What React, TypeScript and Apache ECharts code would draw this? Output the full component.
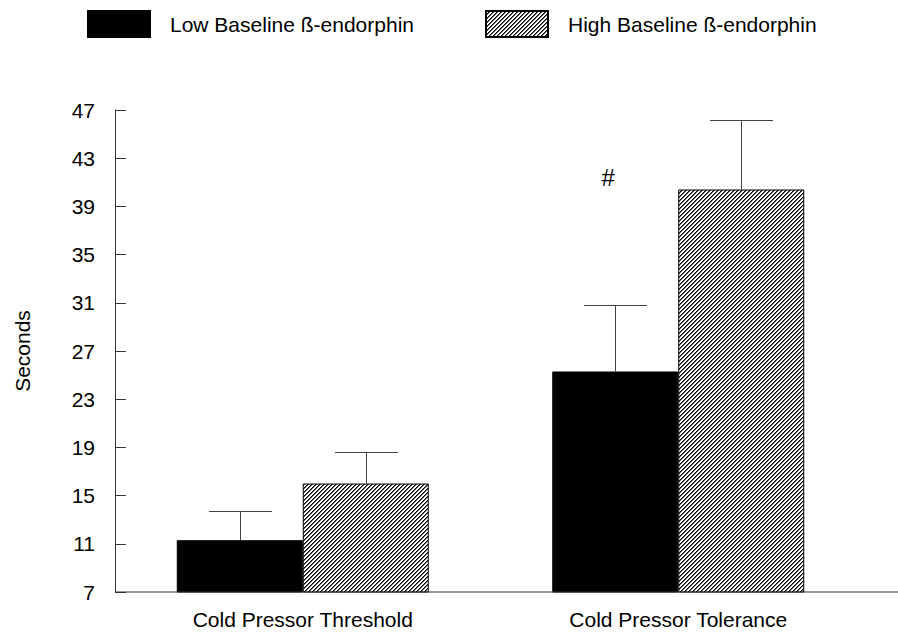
import React, { useEffect, useRef } from "react";
import * as echarts from "echarts";

// Pain measures by baseline ß-endorphin group (seconds, mean and SE)
const categories = ["Cold Pressor Threshold", "Cold Pressor Tolerance"];
const seriesNames = ["Low Baseline ß-endorphin", "High Baseline ß-endorphin"];
const lowMeans = [11.3, 25.3];
const lowErrors = [2.4, 5.5];
const highMeans = [16.0, 40.4];
const highErrors = [2.6, 5.8];
const yMin = 7;
const yMax = 47;
const yStep = 4;
const markText = "#";
const markCategory = 1;
const markValue = 41.4;

const FONT = "'Liberation Sans', Arial, Helvetica, sans-serif";
const BAR_WIDTH = 126;
const GRID_LEFT = 115;
const GRID_TOP = 110;
const GRID_BOTTOM = 40;
const PAGE_W = 898;
const PAGE_H = 632;

// Diagonal "/" hatch tile used for the high-group bars
function makeHatch(): HTMLCanvasElement {
  const size = 4;
  const c = document.createElement("canvas");
  c.width = size;
  c.height = size;
  const ctx = c.getContext("2d")!;
  const img = ctx.createImageData(size, size);
  for (let y = 0; y < size; y++) {
    for (let x = 0; x < size; x++) {
      const s = (x + y) % size;
      let v = 255;
      if (s === size - 1) v = 0;
      else if (s === 0) v = 100;
      const i = (y * size + x) * 4;
      img.data[i] = v;
      img.data[i + 1] = v;
      img.data[i + 2] = v;
      img.data[i + 3] = 255;
    }
  }
  ctx.putImageData(img, 0, 0);
  return c;
}

export default function App() {
  const ref = useRef<HTMLDivElement>(null);

  useEffect(() => {
    if (!ref.current) return;
    const chart = echarts.init(ref.current, undefined, { renderer: "svg" });
    const hatch = makeHatch();

    // [category index, mean, mean + error, side (-1 left bar, +1 right bar)]
    const errorData: number[][] = [];
    lowMeans.forEach((m, i) => errorData.push([i, m, m + lowErrors[i], -1]));
    highMeans.forEach((m, i) => errorData.push([i, m, m + highErrors[i], 1]));

    const legendBase = {
      top: 10,
      padding: 0,
      icon: "rect",
      itemWidth: 62,
      itemHeight: 26,
      selectedMode: false,
      textStyle: {
        fontSize: 21,
        fontFamily: FONT,
        color: "#000",
        padding: [12, 0, 0, 15],
      },
    };
    const baseY = PAGE_H - GRID_BOTTOM;

    chart.setOption({
      animation: false,
      textStyle: { fontFamily: FONT, color: "#000" },
      legend: [
        { ...legendBase, data: [seriesNames[0]], left: 87 },
        { ...legendBase, data: [seriesNames[1]], left: 485 },
      ],
      grid: { left: GRID_LEFT, top: GRID_TOP, right: 32, bottom: GRID_BOTTOM, containLabel: false },
      xAxis: {
        type: "category",
        data: categories,
        axisLine: { show: false },
        axisTick: { show: false },
        axisLabel: { fontSize: 21, color: "#000", margin: 17, fontFamily: FONT },
        splitLine: { show: false },
      },
      yAxis: {
        type: "value",
        min: yMin,
        max: yMax,
        interval: yStep,
        name: "Seconds",
        nameLocation: "middle",
        nameGap: 82,
        nameTextStyle: { fontSize: 21, color: "#000", fontFamily: FONT },
        axisLine: { show: true, lineStyle: { color: "#333", width: 1 } },
        axisTick: { show: true, inside: true, length: 11, lineStyle: { color: "#333" } },
        axisLabel: { fontSize: 21, color: "#000", margin: 20, fontFamily: FONT },
        splitLine: { show: false },
      },
      graphic: [
        {
          // baseline running from the value axis to the right edge of the page
          type: "line",
          shape: { x1: GRID_LEFT, y1: baseY, x2: PAGE_W, y2: baseY },
          style: { stroke: "#333", lineWidth: 1 },
          silent: true,
          z: 10,
        },
      ],
      series: [
        {
          name: seriesNames[0],
          type: "bar",
          data: lowMeans,
          barWidth: BAR_WIDTH,
          barGap: "0%",
          itemStyle: { color: "#000", borderColor: "#000", borderWidth: 1 },
          markPoint: {
            symbol: "circle",
            symbolSize: 0,
            data: [{ coord: [markCategory, markValue] }],
            label: {
              show: true,
              formatter: markText,
              fontSize: 24,
              color: "#000",
              fontFamily: FONT,
              offset: [-7, 0],
            },
          },
        },
        {
          name: seriesNames[1],
          type: "bar",
          data: highMeans,
          barWidth: BAR_WIDTH,
          barGap: "0%",
          itemStyle: {
            color: { image: hatch, repeat: "repeat" },
            borderColor: "#000",
            borderWidth: 1,
          },
        },
        {
          name: "error",
          type: "custom",
          data: errorData,
          z: 5,
          renderItem: (_params: any, api: any) => {
            const cat = api.value(0);
            const base = api.coord([cat, api.value(1)]);
            const top = api.coord([cat, api.value(2)]);
            const x = Math.round(base[0] + api.value(3) * (BAR_WIDTH / 2)) + 0.5;
            const half = BAR_WIDTH / 4;
            const style = { stroke: "#444", lineWidth: 1 };
            const yTop = Math.round(top[1]) + 0.5;
            return {
              type: "group",
              children: [
                { type: "line", shape: { x1: x, y1: base[1], x2: x, y2: yTop }, style },
                { type: "line", shape: { x1: x - half, y1: yTop, x2: x + half, y2: yTop }, style },
              ],
            };
          },
        },
      ],
    });

    return () => chart.dispose();
  }, []);

  return (
    <div
      ref={ref}
      style={{ position: "fixed", left: 0, top: 0, width: PAGE_W, height: PAGE_H, background: "#fff" }}
    />
  );
}
